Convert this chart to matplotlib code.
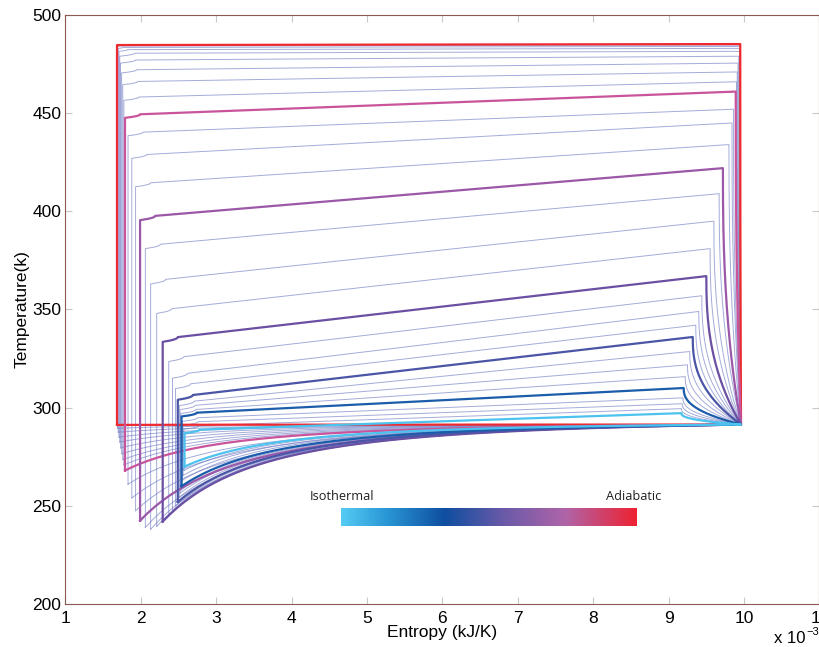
import numpy as np
import matplotlib
matplotlib.use('Agg')
import matplotlib.pyplot as plt
from matplotlib.colors import LinearSegmentedColormap

# ---- data: one cycle per entry, from adiabatic (0) to isothermal (last) ----
S_LEFT = [1.684, 1.69, 1.70, 1.71, 1.72, 1.73, 1.745, 1.76, 1.775,
          1.79, 1.83, 1.88, 1.93,
          1.99, 2.06, 2.13, 2.21,
          2.29, 2.37, 2.42, 2.46,
          2.49, 2.51, 2.52, 2.53,
          2.54, 2.55, 2.56, 2.57,
          2.58]
T_MIN = [291.2, 289.5, 287.5, 285.0, 282.5, 279.5, 276.5, 273.5, 270.8,
         268.0, 261.0, 254.0, 247.5,
         242.5, 239.0, 238.0, 239.5,
         242.0, 245.0, 247.5, 250.0,
         252.0, 254.5, 256.5, 258.0,
         260.0, 263.0, 265.5, 268.0,
         270.0]
T_TOP_LEFT = [484.7, 484.0, 483.0, 481.5, 479.0, 475.5, 470.5, 464.5, 456.5,
              447.6, 438.5, 427.0, 412.5,
              395.5, 381.0, 363.0, 348.0,
              333.5, 323.5, 315.0, 309.7,
              304.0, 301.0, 299.0, 297.0,
              295.5, 293.0, 291.0, 289.0,
              287.0]
S_TOP_RIGHT = [9.95, 9.95, 9.95, 9.94, 9.94, 9.93, 9.92, 9.91, 9.90,
               9.89, 9.86, 9.84, 9.80,
               9.72, 9.67, 9.60, 9.55,
               9.50, 9.44, 9.40, 9.36,
               9.32, 9.28, 9.25, 9.22,
               9.20, 9.19, 9.18, 9.17,
               9.17]
T_TOP_RIGHT = [485.2, 484.7, 484.0, 483.0, 481.5, 479.0, 475.5, 471.0, 466.0,
               461.0, 452.0, 445.0, 434.0,
               422.0, 409.0, 395.0, 381.0,
               367.0, 357.0, 349.0, 342.0,
               336.0, 328.6, 321.8, 315.8,
               310.0, 305.0, 302.0, 299.5,
               297.2]
S_RIGHT = 9.96
T_RIGHT = 291.4

THICK_INDEX = [0, 9, 13, 17, 21, 25, 29]
THICK_COLORS = ['#ee2a30', '#c9549b', '#9b58a8', '#6a4fa3', '#4a55a6', '#1b5cab', '#4cc3ee']

CBAR_POS = [0.0, 0.15, 0.35, 0.55, 0.76, 1.0]
CBAR_COLORS = ['#55cbf3', '#2a98d6', '#0f4ea0', '#6a5aa8', '#b064a8', '#ee2232']

X_TICKS = [1, 2, 3, 4, 5, 6, 7, 8, 9, 10, 11]
Y_TICKS = [200, 250, 300, 350, 400, 450, 500]


def cycle(sl, tmin, ttl, s_tr, t_tr):
    xs, ys = [sl, sl], [tmin, ttl]
    # rounded top-left bend (absent on the pure rectangle)
    k = min(1.0, max(0.0, (484.9 - ttl) / 6.0))
    if k > 0.05:
        bend = 0.2 * k
        slope = (t_tr - ttl) / (s_tr - sl)
        c = (1.5 + slope * bend) * k
        for w in np.linspace(0, 1, 8)[1:]:
            xs.append(sl + bend * (1 - (1 - w) ** 2))
            ys.append(ttl + c * w)
    # top line
    x0, y0 = xs[-1], ys[-1]
    for w in np.linspace(0, 1, 20)[1:]:
        xs.append(x0 + (s_tr - x0) * w)
        ys.append(y0 + (t_tr - y0) * w)
    # right descending curve
    for u in np.linspace(0, 1, 40)[1:]:
        xs.append(s_tr + (S_RIGHT - s_tr) * u ** 2.5)
        ys.append(t_tr - (t_tr - T_RIGHT) * u)
    # bottom branch back to the start
    a = 2.6
    gr = 1.0 / (1 + (S_RIGHT - sl) / a) ** 2
    for s in np.linspace(S_RIGHT, sl, 80)[1:]:
        g = 1.0 / (1 + (s - sl) / a) ** 2
        f = (g - gr) / (1 - gr)
        xs.append(s)
        ys.append(T_RIGHT - (T_RIGHT - tmin) * f)
    return np.array(xs), np.array(ys)


fig = plt.figure(figsize=(8.2, 6.47), dpi=100)
ax = fig.add_axes([0.0798, 0.0665, 0.9195, 0.9103])

for i in range(len(S_LEFT)):
    if i in THICK_INDEX:
        continue
    x, y = cycle(S_LEFT[i], T_MIN[i], T_TOP_LEFT[i], S_TOP_RIGHT[i], T_TOP_RIGHT[i])
    ax.plot(x, y, color='#6c78c2', lw=0.7, alpha=0.62, solid_joinstyle='round')

for i, col in zip(THICK_INDEX, THICK_COLORS):
    x, y = cycle(S_LEFT[i], T_MIN[i], T_TOP_LEFT[i], S_TOP_RIGHT[i], T_TOP_RIGHT[i])
    ax.plot(x, y, color=col, lw=1.6, solid_joinstyle='round')

ax.set_xlim(1, 11)
ax.set_ylim(200, 500)
ax.set_xticks(X_TICKS)
ax.set_yticks(Y_TICKS)
tick_font = ['Liberation Sans Narrow', 'Liberation Sans', 'DejaVu Sans']
ax.set_xticklabels([str(t) for t in X_TICKS], family=tick_font, fontsize=12.5)
ax.set_yticklabels([str(t) for t in Y_TICKS], family=tick_font, fontsize=12.5)
ax.tick_params(direction='in', length=5, color='#c8c8c8', top=True, right=True,
               pad=3)
ax.tick_params(axis='x', pad=5)
for sp in ax.spines.values():
    sp.set_color('#8c5a52')
    sp.set_linewidth(0.8)

ax.set_xlabel('Entropy (kJ/K)', family=tick_font, fontsize=12.5, labelpad=-1)
ax.set_ylabel('Temperature(k)', family=tick_font, fontsize=12.5, labelpad=2)

fig.text(0.944, 0.002, 'x 10', family=tick_font, fontsize=12, ha='left', va='bottom')
fig.text(0.983, 0.016, '\u22123', family=tick_font, fontsize=8, ha='left', va='bottom')

# colour legend bar
cax = fig.add_axes([0.4159, 0.187, 0.3598, 0.0278])
cmap = LinearSegmentedColormap.from_list('iso_adi', list(zip(CBAR_POS, CBAR_COLORS)))
cax.imshow(np.linspace(0, 1, 256)[None, :], aspect='auto', cmap=cmap, extent=[0, 1, 0, 1])
cax.set_axis_off()
fig.text(310 / 820, 1 - 496 / 647, 'Isothermal', family=['Open Sans', 'DejaVu Sans'],
         fontsize=9.2, ha='left', va='center', color='#231f20')
fig.text(606 / 820, 1 - 496 / 647, 'Adiabatic', family=['Open Sans', 'DejaVu Sans'],
         fontsize=9.2, ha='left', va='center', color='#231f20')

fig.savefig('out.png', dpi=100)
